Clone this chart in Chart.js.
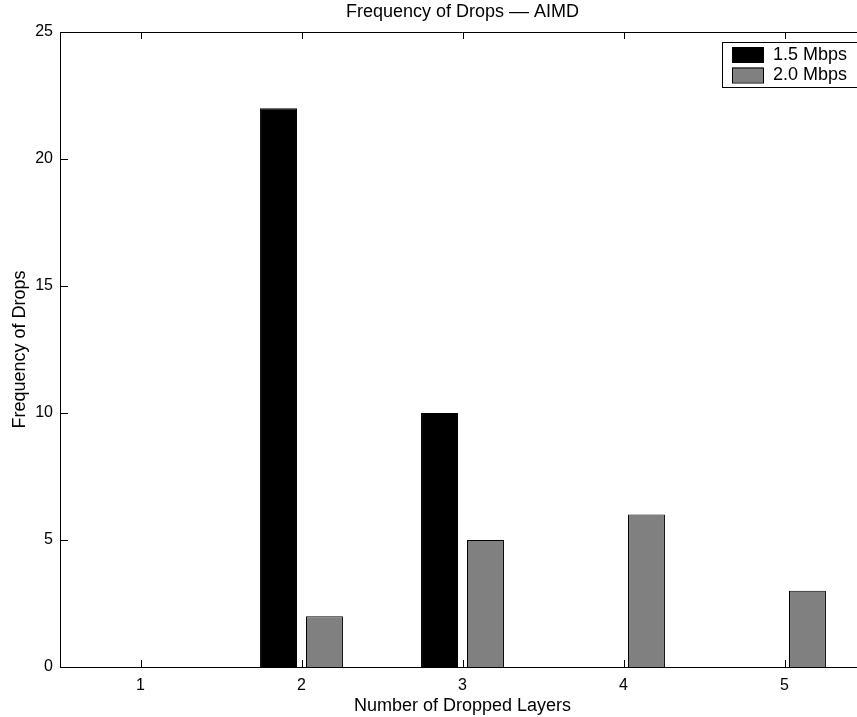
<!DOCTYPE html>
<html>
<head>
<meta charset="utf-8">
<script src="https://cdn.jsdelivr.net/npm/chart.js@4"></script>
<style>
  html, body { margin: 0; padding: 0; overflow: hidden; background: #fff; }
  canvas { display: block; }
</style>
</head>
<body>
<canvas id="chart" width="865" height="717"></canvas>
<script>
// data
const layers = [1, 2, 3, 4, 5];
const drops15 = [0, 22, 10, 0, 0];
const drops20 = [0, 2, 5, 6, 3];
const yTicks = [0, 5, 10, 15, 20, 25];

const FONT = "'Liberation Sans', Arial, Helvetica, sans-serif";

// MATLAB style: ticks pointing inward on all four sides + box
const boxTicks = {
  id: "boxTicks",
  afterDatasetsDraw(chart) {
    const { ctx, chartArea: a, scales } = chart;
    ctx.save();
    ctx.strokeStyle = "#000";
    ctx.lineWidth = 1;
    ctx.beginPath();
    ctx.moveTo(a.left, a.top + 0.5);
    ctx.lineTo(a.right, a.top + 0.5);
    ctx.moveTo(a.right - 0.5, a.top);
    ctx.lineTo(a.right - 0.5, a.bottom);
    layers.forEach((v) => {
      const x = Math.round(scales.x.getPixelForValue(v)) + 0.5;
      ctx.moveTo(x, a.bottom);
      ctx.lineTo(x, a.bottom - 7);
      ctx.moveTo(x, a.top);
      ctx.lineTo(x, a.top + 7);
    });
    yTicks.forEach((v) => {
      const y = Math.round(scales.y.getPixelForValue(v)) + 0.5;
      ctx.moveTo(a.left, y);
      ctx.lineTo(a.left + 8, y);
      ctx.moveTo(a.right, y);
      ctx.lineTo(a.right - 8, y);
    });
    ctx.stroke();
    ctx.restore();
  },
};

// legend box in the upper right corner
const boxLegend = {
  id: "boxLegend",
  afterDraw(chart) {
    const { ctx } = chart;
    const x0 = 722.5, y0 = 42.5, w = 136, h = 45;
    ctx.save();
    ctx.fillStyle = "#fff";
    ctx.fillRect(x0, y0, w, h);
    ctx.strokeStyle = "#000";
    ctx.lineWidth = 1;
    ctx.strokeRect(x0, y0, w, h);
    ctx.font = "18px " + FONT;
    ctx.textBaseline = "middle";
    chart.data.datasets.forEach((ds, i) => {
      const sy = 47 + i * 20.5;
      ctx.fillStyle = ds.backgroundColor;
      ctx.fillRect(732, sy, 31, 15);
      ctx.strokeStyle = "#000";
      ctx.strokeRect(732.5, sy + 0.5, 31, 15);
      ctx.fillStyle = "#000";
      ctx.fillText(ds.label, 773, sy + 8);
    });
    ctx.restore();
  },
};

new Chart(document.getElementById("chart"), {
  type: "bar",
  data: {
    datasets: [
      {
        label: "1.5 Mbps",
        xAxisID: "x",
        yAxisID: "y",
        data: layers.map((x, i) => ({ x: x, y: drops15[i] })),
        backgroundColor: "#000000",
        borderColor: "#000000",
        borderWidth: 1,
      },
      {
        label: "2.0 Mbps",
        xAxisID: "x",
        yAxisID: "y",
        data: layers.map((x, i) => ({ x: x, y: drops20[i] })),
        backgroundColor: "#808080",
        borderColor: "#000000",
        borderWidth: 1,
      },
    ],
  },
  options: {
    responsive: false,
    animation: false,
    categoryPercentage: 0.571,
    barPercentage: 0.804,
    layout: { padding: 0 },
    plugins: {
      legend: { display: false },
      tooltip: { enabled: false },
      title: { display: false },
    },
    scales: {
      x: {
        type: "linear",
        offset: false,
        min: 0.5,
        max: 5.5,
        afterBuildTicks: (s) => { s.ticks = layers.map((v) => ({ value: v })); },
        afterFit: (s) => { s.height = 50; },
        grid: { display: false, drawTicks: false },
        border: { display: true, color: "#000", width: 1 },
        ticks: {
          color: "#000",
          padding: 9,
          font: { family: FONT, size: 16 },
        },
        title: {
          display: true,
          text: "Number of Dropped Layers",
          color: "#000",
          font: { family: FONT, size: 18 },
          padding: { top: 0, bottom: 0 },
        },
      },
      // top axis only carries the title, so it is centred over the axes box
      top: {
        type: "linear",
        position: "top",
        offset: false,
        min: 0.5,
        max: 5.5,
        afterBuildTicks: (s) => { s.ticks = layers.map((v) => ({ value: v })); },
        afterFit: (s) => { s.height = 32; },
        grid: { display: false, drawTicks: false },
        border: { display: false },
        ticks: { display: false },
        title: {
          display: true,
          text: "Frequency of Drops –– AIMD",
          color: "#000",
          font: { family: FONT, size: 18 },
          padding: { top: 1, bottom: 0 },
        },
      },
      y: {
        min: 0,
        max: 25,
        afterBuildTicks: (s) => { s.ticks = yTicks.map((v) => ({ value: v })); },
        afterFit: (s) => { s.width = 60; },
        grid: { display: false, drawTicks: false },
        border: { display: true, color: "#000", width: 1 },
        ticks: {
          color: "#000",
          padding: 7,
          font: { family: FONT, size: 16 },
        },
        title: {
          display: true,
          text: "Frequency of Drops",
          color: "#000",
          font: { family: FONT, size: 18 },
          padding: { top: 9, bottom: 0 },
        },
      },
    },
  },
  plugins: [boxTicks, boxLegend],
});
</script>
</body>
</html>
